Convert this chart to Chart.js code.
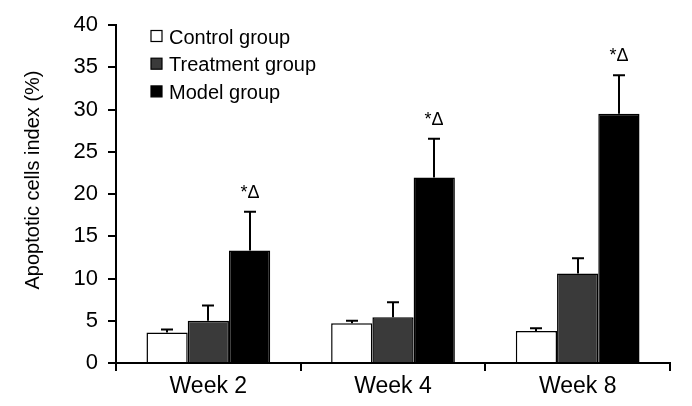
<!DOCTYPE html>
<html>
<head>
<meta charset="utf-8">
<script src="https://cdn.jsdelivr.net/npm/chart.js@4/dist/chart.umd.min.js"></script>
<style>
html,body{margin:0;padding:0;background:#fff;}
canvas{display:block;}
</style>
</head>
<body>
<canvas id="c" width="692" height="406"></canvas>
<script>
const categories = ["Week 2", "Week 4", "Week 8"];
const seriesNames = ["Control group", "Treatment group", "Model group"];
const controlValues = [3.6, 4.7, 3.8];
const controlErrors = [0.35, 0.3, 0.3];
const treatmentValues = [5.0, 5.4, 10.6];
const treatmentErrors = [1.8, 1.8, 1.8];
const modelValues = [13.3, 21.95, 29.5];
const modelErrors = [4.6, 4.6, 4.55];
const modelMarks = ["*\u0394", "*\u0394", "*\u0394"];
const yTicks = [0, 5, 10, 15, 20, 25, 30, 35, 40];
const yTitle = "Apoptotic cells index (%)";

const FONT = "'Liberation Sans', Arial, sans-serif";
const errorSets = [controlErrors, treatmentErrors, modelErrors];
const fills = ["#ffffff", "#3a3a3a", "#000000"];

const errorBarPlugin = {
  id: 'errorBars',
  afterDatasetsDraw(chart) {
    const ctx = chart.ctx;
    const y = chart.scales.y;
    ctx.save();
    ctx.strokeStyle = '#000';
    ctx.lineWidth = 2;
    chart.data.datasets.forEach((ds, i) => {
      const meta = chart.getDatasetMeta(i);
      meta.data.forEach((el, j) => {
        const v = ds.data[j];
        const e = errorSets[i][j];
        const yTop = y.getPixelForValue(v + e);
        const x = Math.round(el.x);
        ctx.beginPath();
        ctx.moveTo(x, el.y);
        ctx.lineTo(x, yTop);
        ctx.moveTo(x - 6, yTop);
        ctx.lineTo(x + 6, yTop);
        ctx.stroke();
        if (i === 2) {
          ctx.fillStyle = '#000';
          ctx.font = "18px " + FONT;
          ctx.textAlign = 'center';
          ctx.textBaseline = 'middle';
          ctx.fillText(modelMarks[j], x, yTop - 19);
        }
      });
    });
    ctx.restore();
  }
};

const legendPlugin = {
  id: 'customLegend',
  afterDraw(chart) {
    const ctx = chart.ctx;
    const a = chart.chartArea;
    ctx.save();
    ctx.font = "20px " + FONT;
    ctx.textBaseline = 'middle';
    ctx.textAlign = 'left';
    chart.data.datasets.forEach((ds, i) => {
      const cy = a.top + 11 + i * 27.7;
      const sx = a.left + 35;
      ctx.fillStyle = fills[i];
      ctx.fillRect(sx, cy - 5.5, 11, 11);
      ctx.strokeStyle = '#000';
      ctx.lineWidth = 1.2;
      ctx.strokeRect(sx, cy - 5.5, 11, 11);
      ctx.fillStyle = '#000';
      ctx.fillText(ds.label, sx + 18, cy + 2);
    });
    // y axis title
    ctx.translate(33, a.top + (a.bottom - a.top) / 2 - 14);
    ctx.rotate(-Math.PI / 2);
    ctx.textAlign = 'center';
    ctx.textBaseline = 'middle';
    ctx.font = "20px " + FONT;
    ctx.fillText(yTitle, 0, 0);
    ctx.restore();
  }
};

new Chart(document.getElementById('c'), {
  type: 'bar',
  data: {
    labels: categories,
    datasets: [
      { label: seriesNames[0], data: controlValues, backgroundColor: fills[0], borderColor: '#000', borderWidth: 1.5 },
      { label: seriesNames[1], data: treatmentValues, backgroundColor: fills[1], borderColor: '#000', borderWidth: 1.5 },
      { label: seriesNames[2], data: modelValues, backgroundColor: fills[2], borderColor: '#000', borderWidth: 1.5 }
    ]
  },
  options: {
    responsive: false,
    devicePixelRatio: 1,
    animation: false,
    layout: { padding: { top: 25, right: 22, left: 0, bottom: 0 } },
    plugins: { legend: { display: false }, tooltip: { enabled: false } },
    datasets: { bar: { categoryPercentage: 0.67, barPercentage: 1.0 } },
    scales: {
      x: {
        grid: { display: true, drawOnChartArea: false, drawTicks: true, tickLength: 8, color: '#000', lineWidth: 2, offset: true },
        border: { display: true, color: '#000', width: 2 },
        ticks: { color: '#000', font: { family: FONT, size: 23 }, padding: 2 },
        afterFit(scale) { scale.height = 43; }
      },
      y: {
        min: 0, max: 40,
        afterBuildTicks(scale) { scale.ticks = yTicks.map(v => ({ value: v })); },
        grid: { display: true, drawOnChartArea: false, drawTicks: true, tickLength: 8, color: '#000', lineWidth: 2 },
        border: { display: true, color: '#000', width: 2 },
        ticks: { color: '#000', font: { family: FONT, size: 22 }, padding: 10 },
        title: { display: false, text: yTitle },
        afterFit(scale) { scale.width = 116; }
      }
    }
  },
  plugins: [errorBarPlugin, legendPlugin]
});
</script>
</body>
</html>
